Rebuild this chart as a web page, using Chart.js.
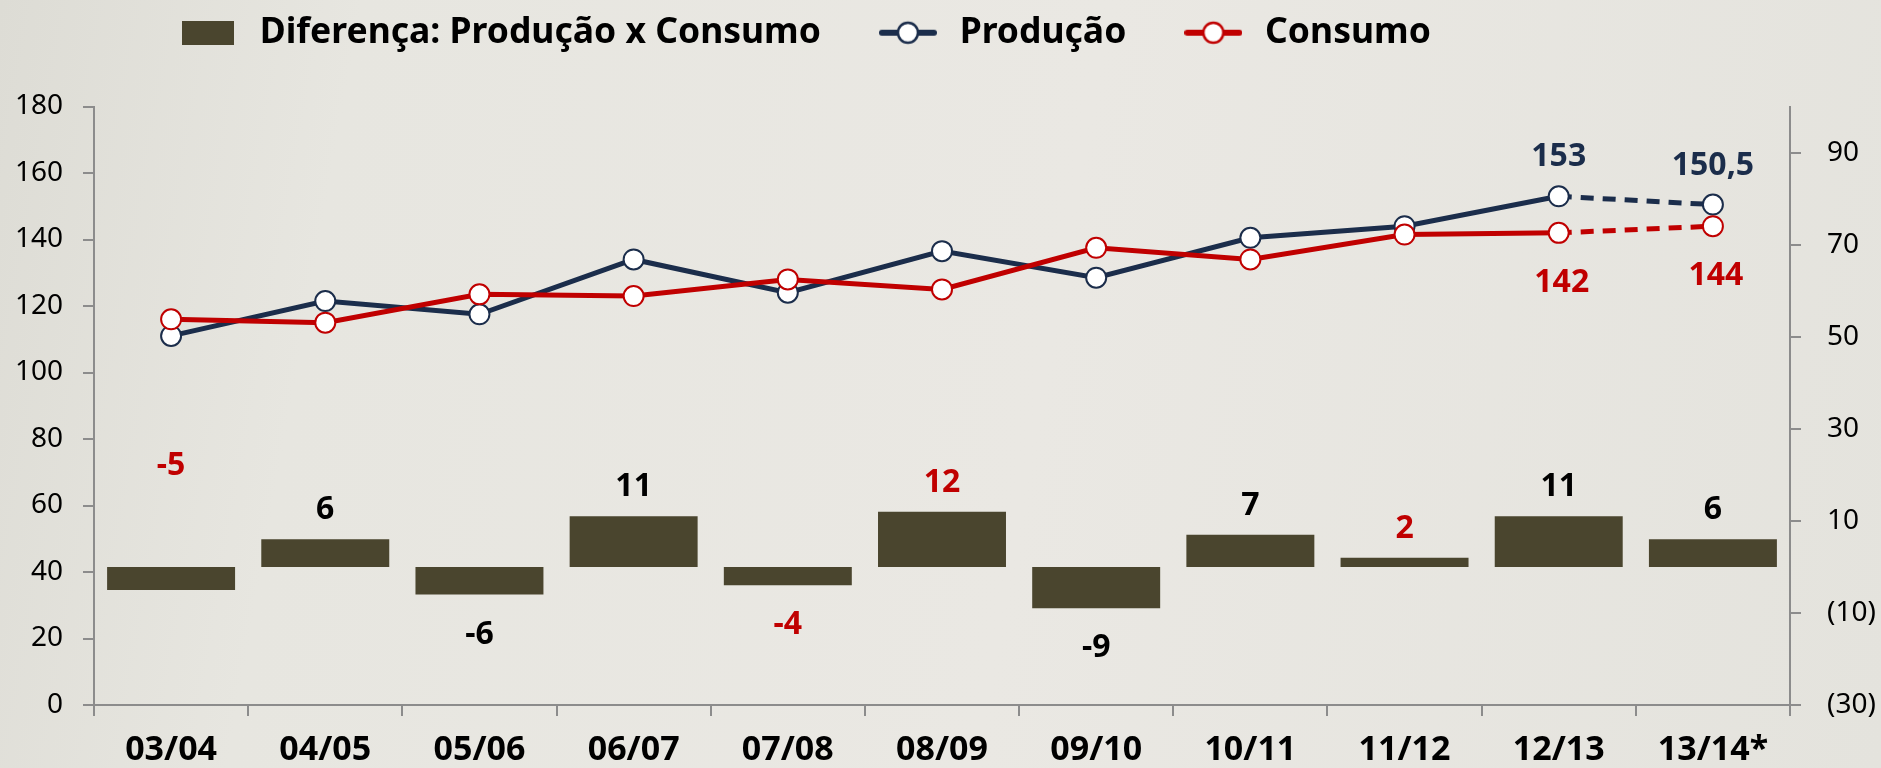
<!DOCTYPE html>
<html>
<head>
<meta charset="utf-8">
<script src="https://cdn.jsdelivr.net/npm/chart.js@4"></script>
<style>
  html, body { margin: 0; padding: 0; }
  body {
    width: 1881px; height: 768px; overflow: hidden;
    background: linear-gradient(100deg, #dddcd5 0%, #e7e6e0 18%, #eae8e3 55%, #e4e3dd 100%);
  }
  #wrap { position: relative; width: 1881px; height: 768px; }
</style>
</head>
<body>
<div id="wrap"><canvas id="chart"></canvas></div>
<script>
const safras = ['03/04', '04/05', '05/06', '06/07', '07/08', '08/09', '09/10', '10/11', '11/12', '12/13', '13/14*']
const producao = [111, 121.5, 117.5, 134, 124, 136.5, 128.5, 140.5, 144, 153, 150.5]
const consumo = [116, 115, 123.5, 123, 128, 125, 137.5, 134, 141.5, 142, 144]
const diferenca = [-5, 6, -6, 11, -4, 12, -9, 7, 2, 11, 6]
const rightTicks = [-30, -10, 10, 30, 50, 70, 90]
const labelledPoints = [9, 10]   // only the last two seasons carry value labels
const projectedFrom = 9          // 12/13 -> 13/14* is an estimate (dashed)

const NAVY = '#1b2d4b'
const RED = '#c00000'
const OLIVE = '#4a452e'
const AXIS = '#8c8c8c'
const FONT = '"Noto Sans", "Open Sans", sans-serif'
const redDiffLabels = [0, 4, 5, 8]
const raisedDiffLabels = [0]

// legend symbols drawn on small canvases
function boxSymbol() {
  const c = document.createElement('canvas')
  c.width = 52; c.height = 24
  const g = c.getContext('2d')
  g.fillStyle = OLIVE
  g.fillRect(0, 0, 52, 24)
  return c
}
function lineSymbol(color) {
  const c = document.createElement('canvas')
  c.width = 58; c.height = 26
  const g = c.getContext('2d')
  g.strokeStyle = color
  g.lineWidth = 6
  g.lineCap = 'round'
  g.beginPath(); g.moveTo(3, 13); g.lineTo(55, 13); g.stroke()
  g.fillStyle = '#fff'
  g.lineWidth = 2.5
  g.beginPath(); g.arc(29, 13, 10, 0, Math.PI * 2); g.fill(); g.stroke()
  return c
}

const fmt = v => String(v).replace('.', ',')

const valueLabels = {
  id: 'valueLabels',
  afterDatasetsDraw(chart) {
    const ctx = chart.ctx
    ctx.save()
    ctx.font = 'bold 32px ' + FONT
    ctx.textAlign = 'center'
    ctx.textBaseline = 'middle'
    chart.getDatasetMeta(0).data.forEach((bar, i) => {
      const v = diferenca[i]
      let y = v >= 0 ? bar.y - 29 : bar.y + 40
      if (raisedDiffLabels.includes(i)) y = bar.base - 101
      ctx.fillStyle = redDiffLabels.includes(i) ? RED : '#000'
      ctx.fillText(String(v), bar.x, y)
    })
    const prod = chart.getDatasetMeta(1).data
    const cons = chart.getDatasetMeta(2).data
    labelledPoints.forEach(i => {
      ctx.fillStyle = NAVY
      ctx.fillText(fmt(producao[i]), prod[i].x, prod[i].y - 39)
      ctx.fillStyle = RED
      ctx.fillText(fmt(consumo[i]), cons[i].x + 3, cons[i].y + 50)
    })
    ctx.restore()
  }
}

// put the legend where the original has it (left of centre, near the top)
const legendPlace = {
  id: 'legendPlace',
  afterLayout(chart) {
    chart.legend.left = 121
    chart.legend.top = -38
  }
}

const dashed = c => (c.p0DataIndex >= projectedFrom ? [13, 9] : undefined)

new Chart(document.getElementById('chart'), {
  data: {
    labels: safras,
    datasets: [
      {
        type: 'bar',
        label: 'Diferença: Produção x Consumo',
        data: diferenca,
        yAxisID: 'y2',
        backgroundColor: OLIVE,
        barPercentage: 0.83,
        categoryPercentage: 1,
        order: 3,
      },
      {
        type: 'line',
        label: 'Produção',
        data: producao,
        yAxisID: 'y',
        borderColor: NAVY,
        borderWidth: 5,
        pointRadius: 10,
        pointBorderWidth: 2,
        pointBackgroundColor: '#fff',
        pointBorderColor: NAVY,
        tension: 0,
        segment: { borderDash: dashed },
        order: 2,
      },
      {
        type: 'line',
        label: 'Consumo',
        data: consumo,
        yAxisID: 'y',
        borderColor: RED,
        borderWidth: 5,
        pointRadius: 10,
        pointBorderWidth: 2,
        pointBackgroundColor: '#fff',
        pointBorderColor: RED,
        tension: 0,
        segment: { borderDash: dashed },
        order: 1,
      },
    ],
  },
  options: {
    responsive: true,
    maintainAspectRatio: false,
    animation: false,
    layout: { padding: { top: 8 } },
    plugins: {
      tooltip: { enabled: false },
      legend: {
        position: 'top',
        align: 'start',
        labels: {
          usePointStyle: true,
          pointStyleWidth: 68,
          padding: 53,
          color: '#000',
          font: { family: FONT, size: 35.5, weight: 'bold' },
          generateLabels(chart) {
            const syms = [boxSymbol(), lineSymbol(NAVY), lineSymbol(RED)]
            return chart.data.datasets.map((ds, i) => ({
              text: ds.label,
              pointStyle: syms[i],
              fillStyle: 'transparent',
              strokeStyle: 'transparent',
              lineWidth: 0,
              hidden: false,
              datasetIndex: i,
            }))
          },
        },
      },
    },
    scales: {
      x: {
        offset: true,
        grid: { offset: true, drawOnChartArea: false, tickLength: 11, color: AXIS, lineWidth: 2 },
        border: { color: AXIS, width: 2 },
        ticks: { color: '#000', font: { family: FONT, size: 34, weight: 'bold' }, padding: 14, maxRotation: 0, autoSkip: false },
        afterFit: s => { s.height = 63 },
      },
      y: {
        position: 'left',
        min: 0,
        max: 180,
        ticks: { stepSize: 20, color: '#000', font: { family: FONT, size: 28 }, padding: 20 },
        grid: { drawOnChartArea: false, tickLength: 11, color: AXIS, lineWidth: 2 },
        border: { color: AXIS, width: 2 },
        afterFit: s => { s.width = 94 },
      },
      y2: {
        position: 'right',
        min: -30,
        max: 100,
        afterBuildTicks: s => { s.ticks = rightTicks.map(v => ({ value: v })) },
        ticks: {
          color: '#000',
          font: { family: FONT, size: 28 },
          padding: 26,
          callback: v => (v < 0 ? '(' + (-v) + ')' : String(v)),
        },
        grid: { drawOnChartArea: false, tickLength: 11, color: AXIS, lineWidth: 2 },
        border: { color: AXIS, width: 2 },
        afterFit: s => { s.width = 91 },
      },
    },
  },
  plugins: [valueLabels, legendPlace],
})
</script>
</body>
</html>
